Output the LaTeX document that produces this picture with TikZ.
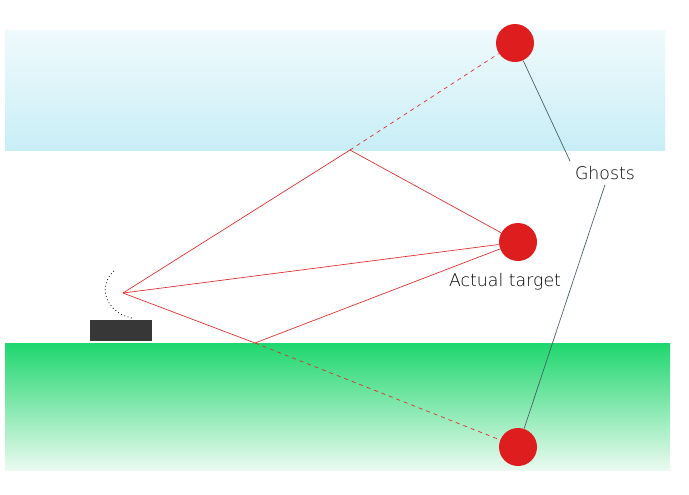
\documentclass[tikz,border=0pt]{standalone}
\usepackage{fontspec}
\setmainfont{DejaVu Sans ExtraLight}
\tikzset{every picture/.style={line width=0.75pt}}
\tikzset{
  target/.style={circle,fill={rgb,255:red,222;green,30;blue,30},minimum size=38pt*0.75,inner sep=0pt},
  ray/.style={color={rgb,255:red,225;green,40;blue,40},line width=0.5pt},
  ghostray/.style={ray,dashed},
  pointer/.style={color={rgb,255:red,70;green,90;blue,100},line width=0.5pt},
  caption/.style={font=\fontsize{13}{15}\selectfont}
}
\begin{document}
\begin{tikzpicture}[x=0.75pt,y=0.75pt,yscale=-1,xscale=1]
        \useasboundingbox (0,0) rectangle (689,494);

        % Surface and bottom
        \shade [top color={rgb,255:red,240;green,250;blue,252},bottom color={rgb,255:red,200;green,238;blue,246}] (5,30) rectangle (665,150);
        \shade [top color={rgb,255:red,30;green,215;blue,110},bottom color={rgb,255:red,235;green,250;blue,240}] (5,343) rectangle (670,470);

        % Sonar
        \fill [color={rgb,255:red,55;green,55;blue,55}] (90,320) rectangle (152,341);
        \draw [dotted,line width=0.6pt] (114,271) .. controls (98,285) and (104,312) .. (132,318);
        \coordinate (src) at (123,293);

        % Targets
        \node [target] (top) at (515,43) {};
        \node [target] (act) at (518,242) {};
        \node [target] (bot) at (518,447) {};

        % Bounce points
        \coordinate (up) at (350,150);
        \coordinate (dn) at (255,343);

        % Rays
        \draw [ray] (src) -- (up) -- (act);
        \draw [ray] (src) -- (act);
        \draw [ray] (src) -- (dn) -- (act);
        \draw [ghostray] (up) -- (top);
        \draw [ghostray] (dn) -- (bot);

        % Labels
        \node [caption] (lblact) at (505,282) {Actual target};
        \node [caption] (lblgh) at (605,173) {Ghosts};
        \draw [pointer] (top) -- (lblgh.north west);
        \draw [pointer] (lblgh.south) -- (bot);
\end{tikzpicture}
\end{document}
